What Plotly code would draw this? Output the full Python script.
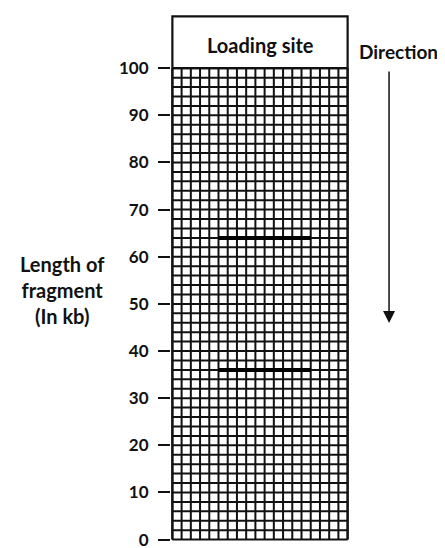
import plotly.graph_objects as go

# ---- data ----
tick_values = [0, 10, 20, 30, 40, 50, 60, 70, 80, 90, 100]
tick_labels = [str(v) for v in tick_values]
band_sizes_kb = [64, 36]          # fragment lengths (kb) of the two bands
band_x_start = [5, 5]
band_x_end = [15, 15]
grid_columns = 19                 # lane width in grid cells
grid_row_step = 2                 # kb per grid row
gel_max = 100
loading_top = 111

FONT = "Lato"
INK = "#111111"

fig = go.Figure()

# grid (vertical + horizontal lines)
gx, gy = [], []
for c in range(grid_columns + 1):
    gx += [c, c, None]
    gy += [0, gel_max, None]
for r in range(0, gel_max + 1, grid_row_step):
    gx += [0, grid_columns, None]
    gy += [r, r, None]
fig.add_trace(go.Scatter(x=gx, y=gy, mode="lines",
                         line=dict(color=INK, width=2),
                         hoverinfo="skip", showlegend=False))

# loading site box + outer border
fig.add_trace(go.Scatter(x=[0, grid_columns, grid_columns, 0, 0, 0],
                         y=[gel_max, gel_max, loading_top, loading_top, gel_max, 0],
                         mode="lines", line=dict(color=INK, width=2.2),
                         hoverinfo="skip", showlegend=False))
fig.add_trace(go.Scatter(x=[grid_columns, grid_columns], y=[0, gel_max], mode="lines",
                         line=dict(color=INK, width=2.2),
                         hoverinfo="skip", showlegend=False))

# bands
for b, x0, x1 in zip(band_sizes_kb, band_x_start, band_x_end):
    fig.add_trace(go.Scatter(x=[x0, x1], y=[b, b], mode="lines",
                             line=dict(color="#000000", width=4),
                             hoverinfo="skip", showlegend=False))

fig.add_annotation(x=grid_columns / 2, y=105, xref="x", yref="y",
                   text="Loading site", showarrow=False,
                   xanchor="center", yanchor="middle",
                   font=dict(family=FONT, size=20, color=INK, weight="bold"))

fig.add_annotation(x=1.28, y=0.928, xref="paper", yref="paper", text="Direction",
                   showarrow=False, xanchor="center", yanchor="middle",
                   font=dict(family=FONT, size=19, color=INK, weight="bold"))

fig.add_annotation(x=1.225, y=0.4137, xref="paper", yref="paper",
                   ax=0, ay=-253, text="", showarrow=True,
                   arrowhead=2, arrowsize=1.6, arrowwidth=1.5, arrowcolor=INK)

fig.add_annotation(x=-0.612, y=0.476, xref="paper", yref="paper",
                   text="Length of<br>fragment<br>(In kb)", showarrow=False,
                   align="center", xanchor="center", yanchor="middle",
                   font=dict(family=FONT, size=20, color=INK, weight="bold"))

fig.update_xaxes(range=[-0.15, grid_columns + 0.15], visible=False, showgrid=False,
                 zeroline=False)
fig.update_yaxes(range=[-0.3, 111.5], tickmode="array", tickvals=tick_values,
                 ticktext=tick_labels, ticks="outside", ticklen=12, tickwidth=1.5,
                 tickcolor=INK, showgrid=False, zeroline=False, showline=False,
                 ticklabelstandoff=6, ticklabeloverflow="allow",
                 tickfont=dict(family=FONT, size=17, color=INK, weight="bold"))

# margins compensate for the 8px page-body offset
fig.update_layout(width=445, height=548,
                  margin=dict(l=163, r=104, t=6, b=15),
                  paper_bgcolor="white", plot_bgcolor="white",
                  showlegend=False)

fig.write_html("out.html")
